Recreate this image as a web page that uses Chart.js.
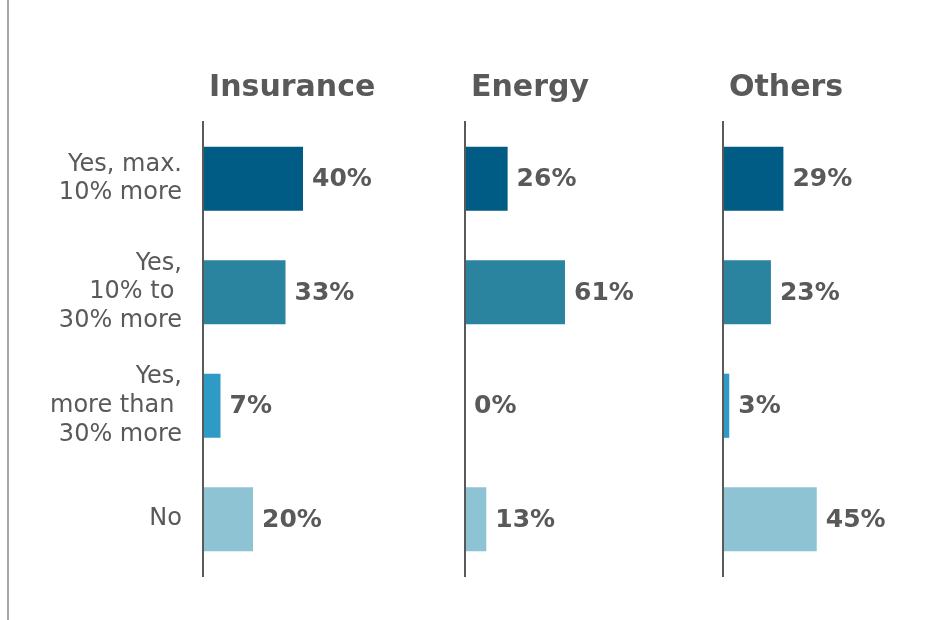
<!DOCTYPE html>
<html>
<head>
<meta charset="utf-8">
<script src="https://cdn.jsdelivr.net/npm/chart.js@4"></script>
<style>
  html, body { margin: 0; padding: 0; background: #fff; }
  #wrap { position: relative; width: 930px; height: 620px; overflow: hidden; }
  #leftRule { position: absolute; left: 7px; top: 0; width: 2px; height: 620px; background: #a6a6a6; }
  .panel { position: absolute; top: 0; }
</style>
</head>
<body>
<div id="wrap">
  <div id="leftRule"></div>
  <canvas id="insChart" class="panel" width="440" height="620" style="left:0px"></canvas>
  <canvas id="engChart" class="panel" width="260" height="620" style="left:440px"></canvas>
  <canvas id="othChart" class="panel" width="230" height="620" style="left:700px"></canvas>
</div>
<script>
const categories = [
  ['Yes, max.', '10% more'],
  ['Yes,', '10% to ', '30% more'],
  ['Yes,', 'more than ', '30% more'],
  'No'
]
const panelTitles = ['Insurance', 'Energy', 'Others']
const insuranceValues = [40, 33, 7, 20]
const energyValues = [26, 61, 0, 13]
const othersValues = [29, 23, 3, 45]

const barColors = ['#005b85', '#2a839f', '#2e9bc6', '#8dc3d3']
const textColor = '#595959'
const fontFamily = '"DejaVu Sans", Verdana, sans-serif'

// value labels next to each bar + panel heading
const barLabels = {
  id: 'barLabels',
  afterDatasetsDraw(chart, args, opts) {
    const ctx = chart.ctx
    const meta = chart.getDatasetMeta(0)
    const values = chart.data.datasets[0].data
    ctx.save()
    ctx.fillStyle = textColor
    ctx.font = 'bold 25px ' + fontFamily
    ctx.textBaseline = 'middle'
    ctx.textAlign = 'left'
    meta.data.forEach((bar, i) => {
      ctx.fillText(values[i] + '%', bar.x + 9, bar.y + 1)
    })
    ctx.font = 'bold 30px ' + fontFamily
    ctx.textBaseline = 'alphabetic'
    ctx.fillText(opts.title, chart.chartArea.left + 6, 96)
    ctx.restore()
  }
}

const makePanel = (id, values, title, xMax, axisWidth, padRight, showLabels) => {
  const ctx = document.getElementById(id).getContext('2d')
  return new Chart(ctx, {
    type: 'bar',
    data: {
      labels: categories,
      datasets: [{
        data: values,
        backgroundColor: barColors,
        barPercentage: 0.565,
        categoryPercentage: 1
      }]
    },
    options: {
      indexAxis: 'y',
      responsive: false,
      animation: false,
      layout: { padding: { top: 122, bottom: 44, left: 0, right: padRight } },
      plugins: {
        legend: { display: false },
        tooltip: { enabled: false },
        barLabels: { title: title }
      },
      scales: {
        x: { display: false, min: 0, max: xMax },
        y: {
          grid: { display: false, drawTicks: false },
          border: { display: true, color: textColor, width: 2, z: 1 },
          ticks: {
            display: showLabels,
            color: textColor,
            padding: 21,
            font: { family: fontFamily, size: 24, lineHeight: 1.2 }
          },
          afterFit: (scale) => {
            scale.width = axisWidth
            scale.paddingTop = 0
            scale.paddingBottom = 0
          }
        }
      }
    },
    plugins: [barLabels]
  })
}

makePanel('insChart', insuranceValues, panelTitles[0], 80, 203, 37, true)
makePanel('engChart', energyValues, panelTitles[1], 122, 25, 35, false)
makePanel('othChart', othersValues, panelTitles[2], 96, 23, 7, false)
</script>
</body>
</html>
